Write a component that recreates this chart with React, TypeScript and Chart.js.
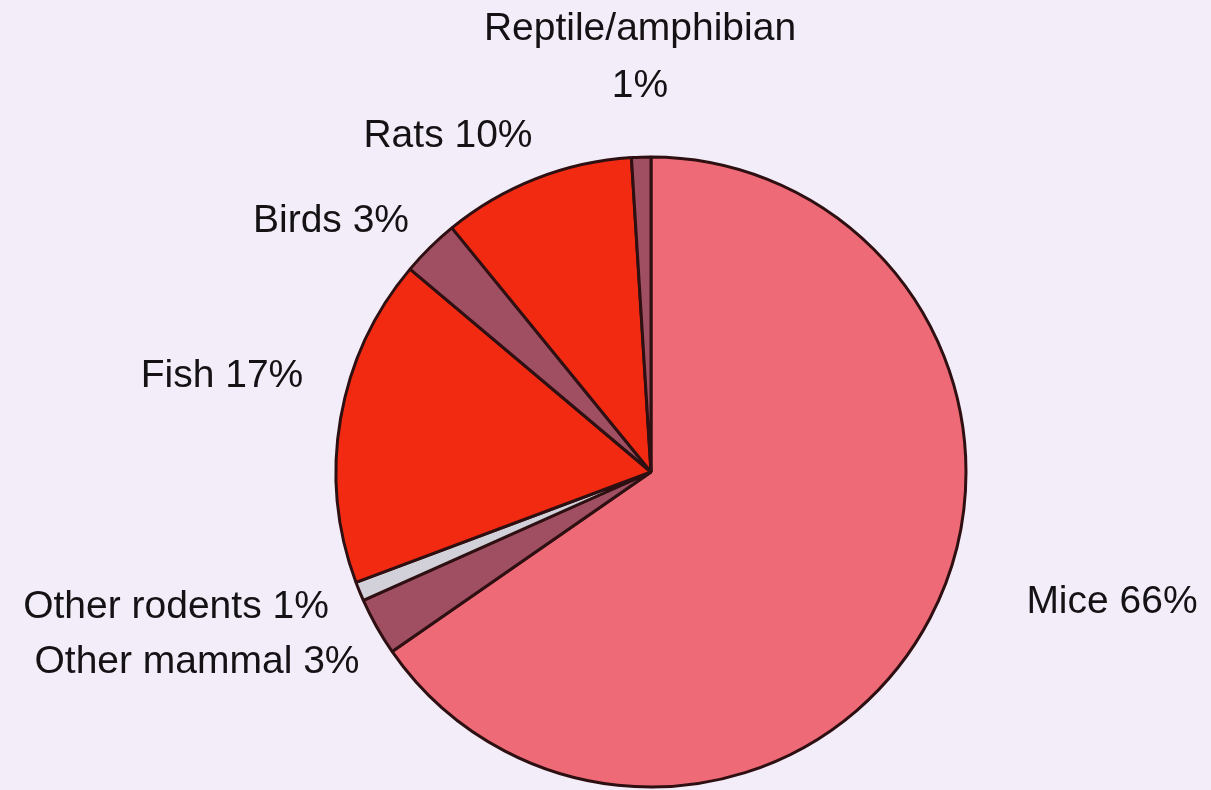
import React, { useEffect, useRef } from "react";
import { Chart, registerables } from "chart.js";

Chart.register(...registerables);

const categories = ["Mice", "Other mammal", "Other rodents", "Fish", "Birds", "Rats", "Reptile/amphibian"];
const percentages = [66, 3, 1, 17, 3, 10, 1];
const labelTexts = [
  ["Mice 66%"],
  ["Other mammal 3%"],
  ["Other rodents 1%"],
  ["Fish 17%"],
  ["Birds 3%"],
  ["Rats 10%"],
  ["Reptile/amphibian", "1%"],
];

// layout only: label centre x and first baseline y
const labelLayout = [
  [1112, 613],
  [197, 673],
  [176, 618],
  [222, 387],
  [331, 232],
  [448, 147],
  [640, 40],
];

const sliceColors = ["#EE6A76", "#A04E62", "#D2D0D8", "#F22A12", "#A04E62", "#F22A12", "#A04E62"];
const BG = "#F3EDF9";

const labelPlugin = {
  id: "pieLabels",
  beforeDraw(chart: any) {
    const { ctx, width, height } = chart;
    ctx.save();
    ctx.fillStyle = BG;
    ctx.fillRect(0, 0, width, height);
    ctx.restore();
  },
  afterDraw(chart: any) {
    const { ctx } = chart;
    ctx.save();
    ctx.fillStyle = "#141214";
    ctx.font = "39px 'Liberation Sans', Arial, sans-serif";
    ctx.textAlign = "center";
    ctx.textBaseline = "alphabetic";
    labelTexts.forEach((lines, i) => {
      const [x, y] = labelLayout[i];
      lines.forEach((line, j) => {
        ctx.fillText(line, x, y + j * 57);
      });
    });
    ctx.restore();
  },
};

export default function App() {
  const ref = useRef<HTMLCanvasElement | null>(null);
  useEffect(() => {
    document.body.style.margin = "0";
    document.body.style.background = BG;
    const canvas = ref.current!;
    const chart = new Chart(canvas, {
      type: "pie",
      data: {
        labels: categories,
        datasets: [
          {
            data: percentages,
            backgroundColor: sliceColors,
            borderColor: "#2e1012",
            borderWidth: 3,
          },
        ],
      },
      options: {
        animation: false,
        responsive: false,
        radius: 315,
        layout: { padding: { top: 155, bottom: 1, left: 334, right: 243 } },
        plugins: {
          legend: { display: false },
          tooltip: { enabled: false },
        },
      },
      plugins: [labelPlugin],
    });
    return () => chart.destroy();
  }, []);
  return (
    <div style={{ width: 1211, height: 790 }}>
      <canvas ref={ref} width={1211} height={790} style={{ display: "block" }} />
    </div>
  );
}
